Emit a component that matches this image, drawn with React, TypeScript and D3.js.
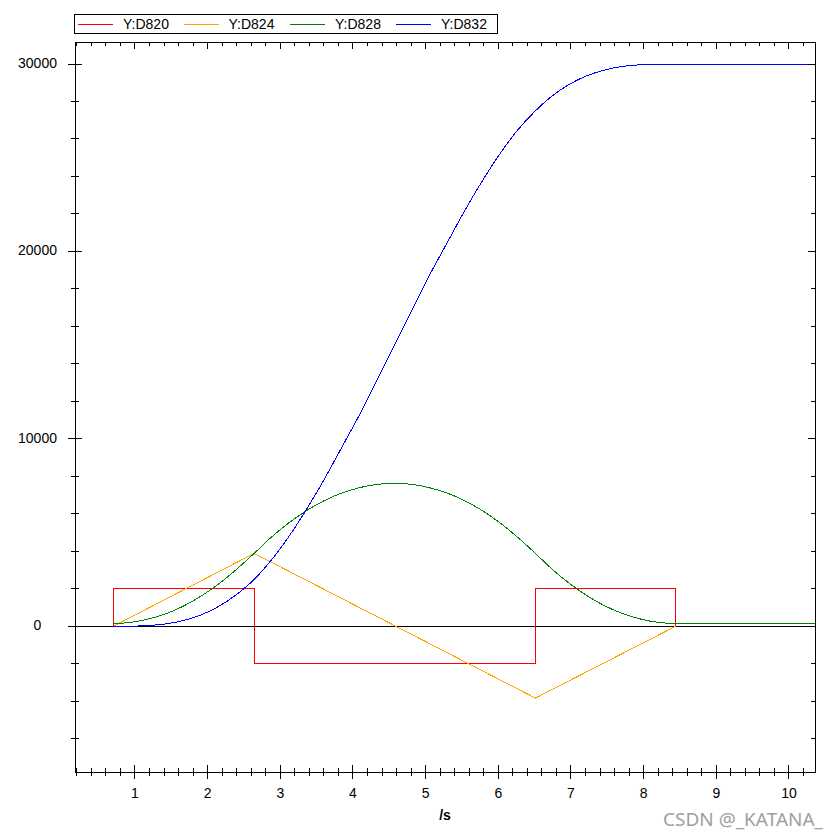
import React from 'react';
import * as d3 from 'd3';

const seriesNames = ['Y:D820', 'Y:D824', 'Y:D828', 'Y:D832'];
const seriesColors = ['#FF0000', '#FFA500', '#008000', '#0000FF'];

// D820 (jerk, step)
const jerkT = [0.70, 0.70, 2.64, 2.64, 6.51, 6.51, 8.44, 8.44];
const jerkV = [0, 2000, 2000, -2000, -2000, 2000, 2000, 0];
// D824 (acceleration, triangular)
const accT = [0.70, 2.64, 6.51, 8.44];
const accV = [0, 3890, -3830, 0];
// D828 / D832 sampled times
const motionT = [0.70, 0.94, 1.18, 1.43, 1.67, 1.91, 2.15, 2.39, 2.64, 2.88, 3.12, 3.36, 3.60, 3.84, 4.09, 4.33, 4.57,
  4.81, 5.05, 5.30, 5.54, 5.78, 6.02, 6.26, 6.51, 6.75, 6.99, 7.23, 7.47, 7.71, 7.96, 8.20, 8.44, 10.36];
const velV = [150, 208, 384, 676, 1085, 1611, 2254, 3013, 3890, 4767, 5526, 6169, 6695, 7104, 7396, 7572, 7630,
  7572, 7396, 7104, 6695, 6169, 5526, 4767, 3890, 3013, 2254, 1611, 1085, 676, 384, 208, 150, 150];
const posV = [0, 5, 39, 132, 313, 610, 1055, 1675, 2500, 3550, 4805, 6235, 7813, 9507, 11289, 13130, 15000,
  16870, 18711, 20493, 22187, 23765, 25195, 26450, 27500, 28325, 28945, 29390, 29687, 29868, 29961, 29995, 30000, 30000];

const xMajorTicks = [1, 2, 3, 4, 5, 6, 7, 8, 9, 10];
const xTickLabels = ['1', '2', '3', '4', '5', '6', '7', '8', '9', '10'];
const yMajorTicks = [0, 10000, 20000, 30000];
const yTickLabels = ['0', '10000', '20000', '30000'];
const xTitle = '/s';
const watermark = 'CSDN @_KATANA_';

const L = 75, R = 815, T = 42, B = 772;
const FONT = '"Liberation Sans", Arial, sans-serif';

export default function App() {
  const x = d3.scaleLinear().domain([0.1744, 10.358]).range([L, R]);
  const y = d3.scaleLinear().domain([-7774, 31174]).range([B, T]);

  const xMinor = d3.range(1, 52).map(i => i * 0.2).filter(v => x(v) > L && x(v) < R && Math.abs(v - Math.round(v)) > 1e-6);
  const yMinor = d3.range(-8, 17).map(i => i * 2000).filter(v => y(v) > T && y(v) < B && v % 10000 !== 0);

  const lin = d3.line<[number, number]>().x(d => x(d[0])).y(d => y(d[1]));
  const smooth = d3.line<[number, number]>().x(d => x(d[0])).y(d => y(d[1])).curve(d3.curveMonotoneX);

  const paths = [
    lin(jerkT.map((t, i) => [t, jerkV[i]] as [number, number])),
    lin(accT.map((t, i) => [t, accV[i]] as [number, number])),
    smooth(motionT.map((t, i) => [t, velV[i]] as [number, number])),
    smooth(motionT.map((t, i) => [t, posV[i]] as [number, number])),
  ];

  const legendX = [78, 183.5, 290, 396];

  return (
    <svg width={840} height={840} style={{ position: 'absolute', left: 0, top: 0, background: '#fff' }}>
      <defs>
        <clipPath id="plot"><rect x={L} y={T} width={R - L} height={B - T} /></clipPath>
      </defs>
      <rect x={0} y={0} width={840} height={840} fill="#fff" />

      {/* zero line */}
      <line x1={L} x2={R} y1={y(0)} y2={y(0)} stroke="#000" strokeWidth={1} shapeRendering="crispEdges" />

      {/* series */}
      <g clipPath="url(#plot)">
        {paths.map((p, i) => (
          <path key={i} d={p || ''} fill="none" stroke={seriesColors[i]} strokeWidth={1} shapeRendering="crispEdges" />
        ))}
      </g>

      {/* frame */}
      <rect x={L} y={T} width={R - L} height={B - T} fill="none" stroke="#000" strokeWidth={1} shapeRendering="crispEdges" />

      {/* ticks */}
      <g stroke="#000" strokeWidth={1} shapeRendering="crispEdges">
        {xMajorTicks.map(v => (
          <g key={'xm' + v}>
            <line x1={x(v)} x2={x(v)} y1={B - 7} y2={B + 7} />
            <line x1={x(v)} x2={x(v)} y1={T} y2={T + 7} />
          </g>
        ))}
        {xMinor.map(v => (
          <g key={'xn' + v}>
            <line x1={x(v)} x2={x(v)} y1={B - 4} y2={B + 4} />
            <line x1={x(v)} x2={x(v)} y1={T} y2={T + 4} />
          </g>
        ))}
        {yMajorTicks.map(v => (
          <g key={'ym' + v}>
            <line x1={L - 7} x2={L + 7} y1={y(v)} y2={y(v)} />
            <line x1={R - 7} x2={R} y1={y(v)} y2={y(v)} />
          </g>
        ))}
        {yMinor.map(v => (
          <g key={'yn' + v}>
            <line x1={L - 4} x2={L + 4} y1={y(v)} y2={y(v)} />
            <line x1={R - 4} x2={R} y1={y(v)} y2={y(v)} />
          </g>
        ))}
      </g>

      {/* tick labels */}
      <g fontFamily={FONT} fontSize={14} fill="#000">
        {xMajorTicks.map((v, i) => (
          <text key={'xl' + v} x={x(v)} y={797.5} textAnchor="middle">{xTickLabels[i]}</text>
        ))}
        {yMajorTicks.map((v, i) => (
          <text key={'yl' + v} x={37.5} y={y(v) + 4} textAnchor="middle">{yTickLabels[i]}</text>
        ))}
        <text x={(L + R) / 2} y={820} textAnchor="middle" fontWeight="bold">{xTitle}</text>
      </g>

      {/* legend */}
      <rect x={74.5} y={14.5} width={423} height={19} fill="#fff" stroke="#000" strokeWidth={1} shapeRendering="crispEdges" />
      {seriesNames.map((n, i) => (
        <g key={n}>
          <line x1={legendX[i]} x2={legendX[i] + 35} y1={24.5} y2={24.5} stroke={seriesColors[i]} strokeWidth={1} shapeRendering="crispEdges" />
          <text x={legendX[i] + 45} y={29} fontFamily={FONT} fontSize={14} fill="#000">{n}</text>
        </g>
      ))}

      <text x={663} y={825.5} fontFamily='"Noto Sans", sans-serif' fontSize={18} fill="#a0a0a0"
        textLength={160} lengthAdjust="spacingAndGlyphs">{watermark}</text>
    </svg>
  );
}
